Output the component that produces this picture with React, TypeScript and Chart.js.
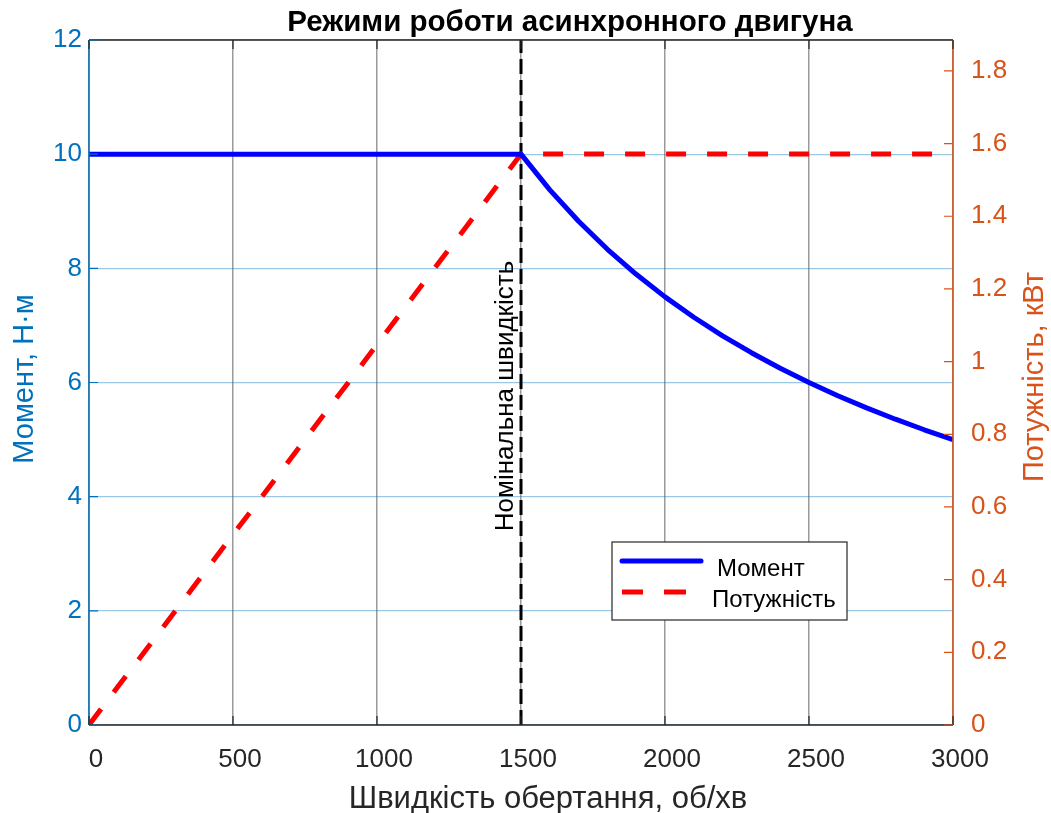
import { useEffect, useRef } from "react";
import { Chart, registerables } from "chart.js";

Chart.register(...registerables);

// Shaft speed, rpm
const speed = [
  0, 100, 200, 300, 400, 500, 600, 700, 800, 900, 1000, 1100, 1200, 1300, 1400, 1500,
  1600, 1700, 1800, 1900, 2000, 2100, 2200, 2300, 2400, 2500, 2600, 2700, 2800, 2900, 3000,
];
// Torque, N·m (constant-torque zone up to rated speed, then constant power)
const torque = [
  10, 10, 10, 10, 10, 10, 10, 10, 10, 10, 10, 10, 10, 10, 10, 10,
  9.375, 8.824, 8.333, 7.895, 7.5, 7.143, 6.818, 6.522, 6.25, 6.0, 5.769, 5.556, 5.357, 5.172, 5.0,
];
// Power, kW
const power = [
  0, 0.105, 0.209, 0.314, 0.419, 0.524, 0.628, 0.733, 0.838, 0.942, 1.047, 1.152, 1.257, 1.361, 1.466, 1.571,
  1.571, 1.571, 1.571, 1.571, 1.571, 1.571, 1.571, 1.571, 1.571, 1.571, 1.571, 1.571, 1.571, 1.571, 1.571,
];
const ratedSpeed = 1500;

const speedTicks = [0, 500, 1000, 1500, 2000, 2500, 3000];
const torqueTicks = [0, 2, 4, 6, 8, 10, 12];
const powerTicks = [0, 0.2, 0.4, 0.6, 0.8, 1, 1.2, 1.4, 1.6, 1.8];
const powerMax = 1.885;

const titleText = "Режими роботи асинхронного двигуна";
const xLabel = "Швидкість обертання, об/хв";
const yLeftLabel = "Момент, Н·м";
const yRightLabel = "Потужність, кВт";
const ratedLabel = "Номінальна швидкість";
const legendLabels = ["Момент", "Потужність"];

const FONT = '"Liberation Sans", Arial, Helvetica, sans-serif';
const BLUE_AXIS = "#0072BD";
const ORANGE_AXIS = "#D95319";
const DARK = "#262626";
const TICK_SIZE = 26;
const LABEL_SIZE = 29;

const decorPlugin = {
  id: "decor",
  afterDatasetsDraw(chart: any) {
    const { ctx, chartArea: a, scales } = chart;
    const xs = scales.x;
    const yl = scales.y;
    const yr = scales.y1;
    ctx.save();

    // frame
    ctx.lineWidth = 1.5;
    ctx.strokeStyle = DARK;
    ctx.beginPath();
    ctx.moveTo(a.left, a.top);
    ctx.lineTo(a.right, a.top);
    ctx.moveTo(a.left, a.bottom);
    ctx.lineTo(a.right, a.bottom);
    ctx.stroke();
    ctx.strokeStyle = BLUE_AXIS;
    ctx.beginPath();
    ctx.moveTo(a.left, a.top);
    ctx.lineTo(a.left, a.bottom);
    ctx.stroke();
    ctx.strokeStyle = ORANGE_AXIS;
    ctx.beginPath();
    ctx.moveTo(a.right, a.top);
    ctx.lineTo(a.right, a.bottom);
    ctx.stroke();

    // inward tick marks
    const tl = 9;
    ctx.lineWidth = 1.2;
    ctx.strokeStyle = DARK;
    ctx.beginPath();
    speedTicks.forEach((v) => {
      const px = xs.getPixelForValue(v);
      ctx.moveTo(px, a.bottom);
      ctx.lineTo(px, a.bottom - tl);
      ctx.moveTo(px, a.top);
      ctx.lineTo(px, a.top + tl);
    });
    ctx.stroke();
    ctx.strokeStyle = BLUE_AXIS;
    ctx.beginPath();
    torqueTicks.forEach((v) => {
      const py = yl.getPixelForValue(v);
      ctx.moveTo(a.left, py);
      ctx.lineTo(a.left + tl, py);
    });
    ctx.stroke();
    ctx.strokeStyle = ORANGE_AXIS;
    ctx.beginPath();
    powerTicks.forEach((v) => {
      const py = yr.getPixelForValue(v);
      ctx.moveTo(a.right, py);
      ctx.lineTo(a.right - tl, py);
    });
    ctx.stroke();

    // rated-speed annotation
    const rx = xs.getPixelForValue(ratedSpeed);
    ctx.save();
    ctx.translate(rx - 8, 396);
    ctx.rotate(-Math.PI / 2);
    ctx.fillStyle = "#000";
    ctx.font = `${TICK_SIZE}px ${FONT}`;
    ctx.textAlign = "center";
    ctx.textBaseline = "alphabetic";
    ctx.fillText(ratedLabel, 0, 0);
    ctx.restore();

    // legend
    const bx = 612, by = 542, bw = 235, bh = 78;
    ctx.fillStyle = "#fff";
    ctx.fillRect(bx, by, bw, bh);
    ctx.lineWidth = 1.2;
    ctx.strokeStyle = DARK;
    ctx.strokeRect(bx, by, bw, bh);
    ctx.lineCap = "round";
    ctx.strokeStyle = "#0000FF";
    ctx.lineWidth = 5;
    ctx.beginPath();
    ctx.moveTo(622, 561);
    ctx.lineTo(701, 561);
    ctx.stroke();
    ctx.lineCap = "butt";
    ctx.strokeStyle = "#FF0000";
    ctx.lineWidth = 5;
    ctx.beginPath();
    ctx.moveTo(622, 592);
    ctx.lineTo(643, 592);
    ctx.moveTo(664, 592);
    ctx.lineTo(686, 592);
    ctx.stroke();
    ctx.fillStyle = "#000";
    ctx.font = `24px ${FONT}`;
    ctx.textAlign = "left";
    ctx.textBaseline = "alphabetic";
    ctx.fillText(legendLabels[0], 717, 576);
    ctx.fillText(legendLabels[1], 712, 607);

    // x tick labels
    ctx.fillStyle = DARK;
    ctx.font = `${TICK_SIZE}px ${FONT}`;
    ctx.textAlign = "center";
    speedTicks.forEach((v) => {
      const px = xs.getPixelForValue(v);
      ctx.fillText(String(v), px + 7, 767);
    });

    // title
    ctx.fillStyle = "#000";
    ctx.font = `bold 29.5px ${FONT}`;
    ctx.textAlign = "center";
    ctx.fillText(titleText, 570, 31);

    // axis titles
    ctx.font = `31px ${FONT}`;
    ctx.fillStyle = DARK;
    ctx.fillText(xLabel, 548, 808);

    ctx.font = `${LABEL_SIZE}px ${FONT}`;
    ctx.save();
    ctx.translate(33, 379);
    ctx.rotate(-Math.PI / 2);
    ctx.fillStyle = BLUE_AXIS;
    ctx.fillText(yLeftLabel, 0, 0);
    ctx.restore();

    ctx.save();
    ctx.translate(1043, 377);
    ctx.rotate(-Math.PI / 2);
    ctx.fillStyle = ORANGE_AXIS;
    ctx.fillText(yRightLabel, 0, 0);
    ctx.restore();

    ctx.restore();
  },
};

export default function App() {
  const ref = useRef<HTMLCanvasElement | null>(null);

  useEffect(() => {
    document.body.style.margin = "0";
    const canvas = ref.current;
    if (!canvas) return;

    const chart = new Chart(canvas, {
      type: "line",
      data: {
        datasets: [
          {
            label: legendLabels[0],
            data: speed.map((s, i) => ({ x: s, y: torque[i] })),
            borderColor: "#0000FF",
            borderWidth: 5,
            borderJoinStyle: "round",
            pointRadius: 0,
            tension: 0,
            yAxisID: "y",
            order: 1,
          },
          {
            label: legendLabels[1],
            data: speed.map((s, i) => ({ x: s, y: power[i] })),
            borderColor: "#FF0000",
            borderWidth: 5,
            borderDash: [20, 21],
            pointRadius: 0,
            tension: 0,
            yAxisID: "y1",
            order: 2,
          },
          {
            label: ratedLabel,
            data: [
              { x: ratedSpeed, y: torqueTicks[0] },
              { x: ratedSpeed, y: torqueTicks[torqueTicks.length - 1] },
            ],
            borderColor: "#000000",
            borderWidth: 3,
            borderDash: [15, 6],
            pointRadius: 0,
            yAxisID: "y",
            order: 3,
          },
        ],
      },
      options: {
        animation: false,
        responsive: false,
        devicePixelRatio: 1,
        layout: { padding: { top: 40, left: 0, right: 0, bottom: 0 } },
        plugins: {
          legend: { display: false },
          title: { display: false },
          tooltip: { enabled: false },
        },
        scales: {
          x: {
            type: "linear",
            position: "bottom",
            min: 0,
            max: 3000,
            afterBuildTicks: (s: any) => {
              s.ticks = speedTicks.map((v) => ({ value: v }));
            },
            afterFit: (s: any) => {
              s.height = 88;
            },
            ticks: { display: false },
            grid: { color: "rgba(120,120,120,0.75)", lineWidth: 1.5, drawTicks: false },
            border: { display: false },
          },
          y: {
            type: "linear",
            position: "left",
            min: 0,
            max: 12,
            afterBuildTicks: (s: any) => {
              s.ticks = torqueTicks.map((v) => ({ value: v }));
            },
            afterFit: (s: any) => {
              s.width = 89;
            },
            ticks: {
              color: BLUE_AXIS,
              padding: 7,
              font: { family: FONT, size: TICK_SIZE },
            },
            grid: { color: "rgba(0,114,189,0.4)", lineWidth: 1.2, drawTicks: false },
            border: { display: false },
          },
          y1: {
            type: "linear",
            position: "right",
            min: 0,
            max: powerMax,
            afterBuildTicks: (s: any) => {
              s.ticks = powerTicks.map((v) => ({ value: v }));
            },
            afterFit: (s: any) => {
              s.width = 98;
            },
            ticks: {
              color: ORANGE_AXIS,
              padding: 18,
              font: { family: FONT, size: TICK_SIZE },
              callback: (v: any) => String(Math.round(Number(v) * 10) / 10),
            },
            grid: { drawOnChartArea: false, drawTicks: false },
            border: { display: false },
          },
        },
      },
      plugins: [decorPlugin],
    });

    return () => chart.destroy();
  }, []);

  return (
    <div style={{ width: 1051, height: 813, background: "#fff" }}>
      <canvas ref={ref} width={1051} height={813} style={{ display: "block" }} />
    </div>
  );
}
